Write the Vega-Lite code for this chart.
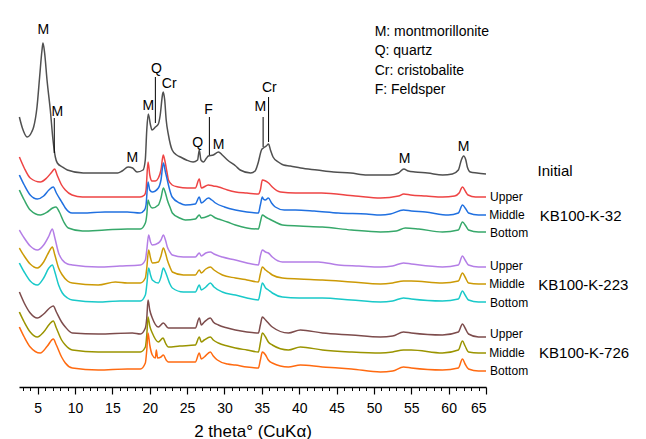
{
"$schema": "https://vega.github.io/schema/vega-lite/v6.json",
"width": 467, "height": 377,
"autosize": "none",
"padding": {"left": 19, "top": 10, "right": 160, "bottom": 52},
"config": {"view": {"stroke": null}, "font": "Liberation Sans", "axis": {"grid": false}},
"datasets": {
"xrd": [
{"s":"Initial","t":2.55,"v":270},{"s":"Initial","t":2.95,"v":259},{"s":"Initial","t":3.6,"v":250},{"s":"Initial","t":4.2,"v":255},{"s":"Initial","t":4.46,"v":260},{"s":"Initial","t":4.91,"v":280},{"s":"Initial","t":5.26,"v":310},{"s":"Initial","t":5.58,"v":337},{"s":"Initial","t":5.71,"v":344},{"s":"Initial","t":5.93,"v":334},{"s":"Initial","t":6.25,"v":307},{"s":"Initial","t":6.69,"v":277},{"s":"Initial","t":7.05,"v":247},{"s":"Initial","t":7.36,"v":230},{"s":"Initial","t":7.63,"v":224},{"s":"Initial","t":8.3,"v":220},{"s":"Initial","t":8.97,"v":217},{"s":"Initial","t":11.1,"v":214},{"s":"Initial","t":13.4,"v":214},{"s":"Initial","t":15.7,"v":214},{"s":"Initial","t":16.3,"v":216},{"s":"Initial","t":17.1,"v":220},{"s":"Initial","t":17.7,"v":219},{"s":"Initial","t":18.3,"v":215},{"s":"Initial","t":19.1,"v":217},{"s":"Initial","t":19.4,"v":227},{"s":"Initial","t":19.6,"v":257},{"s":"Initial","t":19.8,"v":273},{"s":"Initial","t":20.1,"v":262},{"s":"Initial","t":20.3,"v":257},{"s":"Initial","t":20.75,"v":260},{"s":"Initial","t":21.15,"v":263},{"s":"Initial","t":21.4,"v":272},{"s":"Initial","t":21.7,"v":292},{"s":"Initial","t":21.8,"v":295},{"s":"Initial","t":22.0,"v":287},{"s":"Initial","t":22.2,"v":267},{"s":"Initial","t":22.5,"v":252},{"s":"Initial","t":23.0,"v":237},{"s":"Initial","t":23.6,"v":232},{"s":"Initial","t":24.1,"v":230},{"s":"Initial","t":24.9,"v":227},{"s":"Initial","t":25.8,"v":225},{"s":"Initial","t":26.4,"v":227},{"s":"Initial","t":26.63,"v":237},{"s":"Initial","t":26.85,"v":227},{"s":"Initial","t":27.2,"v":225},{"s":"Initial","t":27.6,"v":229},{"s":"Initial","t":27.84,"v":231},{"s":"Initial","t":28.5,"v":232},{"s":"Initial","t":29.2,"v":235},{"s":"Initial","t":29.7,"v":232},{"s":"Initial","t":30.4,"v":227},{"s":"Initial","t":31.5,"v":221},{"s":"Initial","t":32.1,"v":217},{"s":"Initial","t":33.5,"v":214},{"s":"Initial","t":34.1,"v":216},{"s":"Initial","t":34.5,"v":224},{"s":"Initial","t":34.95,"v":237},{"s":"Initial","t":35.2,"v":239},{"s":"Initial","t":35.6,"v":241},{"s":"Initial","t":35.9,"v":243},{"s":"Initial","t":36.15,"v":237},{"s":"Initial","t":36.5,"v":230},{"s":"Initial","t":37.2,"v":225},{"s":"Initial","t":37.9,"v":222},{"s":"Initial","t":38.8,"v":221},{"s":"Initial","t":40.2,"v":219},{"s":"Initial","t":42.4,"v":217},{"s":"Initial","t":44.6,"v":215},{"s":"Initial","t":46.9,"v":214},{"s":"Initial","t":49.1,"v":212},{"s":"Initial","t":52.2,"v":212},{"s":"Initial","t":53.3,"v":214},{"s":"Initial","t":54.0,"v":218},{"s":"Initial","t":54.6,"v":216},{"s":"Initial","t":55.5,"v":215},{"s":"Initial","t":57.2,"v":214},{"s":"Initial","t":59.2,"v":212},{"s":"Initial","t":60.5,"v":213},{"s":"Initial","t":61.3,"v":217},{"s":"Initial","t":61.7,"v":227},{"s":"Initial","t":62.0,"v":231},{"s":"Initial","t":62.3,"v":227},{"s":"Initial","t":62.5,"v":220},{"s":"Initial","t":62.9,"v":215},{"s":"Initial","t":63.8,"v":214},{"s":"Initial","t":65,"v":213},
{"s":"32U","t":2.55,"v":230},{"s":"32U","t":3.2,"v":219},{"s":"32U","t":4.0,"v":209},{"s":"32U","t":5.35,"v":205},{"s":"32U","t":6.2,"v":209},{"s":"32U","t":6.9,"v":215},{"s":"32U","t":7.27,"v":218},{"s":"32U","t":7.6,"v":212},{"s":"32U","t":8.2,"v":202},{"s":"32U","t":8.7,"v":197},{"s":"32U","t":9.6,"v":192},{"s":"32U","t":11,"v":190},{"s":"32U","t":13.1,"v":190},{"s":"32U","t":16,"v":190},{"s":"32U","t":18.7,"v":190},{"s":"32U","t":19.3,"v":192},{"s":"32U","t":19.5,"v":197},{"s":"32U","t":19.77,"v":225},{"s":"32U","t":20.0,"v":212},{"s":"32U","t":20.3,"v":206},{"s":"32U","t":20.75,"v":206},{"s":"32U","t":21.15,"v":209},{"s":"32U","t":21.5,"v":217},{"s":"32U","t":21.8,"v":232},{"s":"32U","t":22.0,"v":227},{"s":"32U","t":22.3,"v":215},{"s":"32U","t":22.5,"v":207},{"s":"32U","t":23.0,"v":202},{"s":"32U","t":23.8,"v":200},{"s":"32U","t":25,"v":199},{"s":"32U","t":26.1,"v":199},{"s":"32U","t":26.63,"v":208},{"s":"32U","t":26.9,"v":199},{"s":"32U","t":27.84,"v":202},{"s":"32U","t":28.5,"v":201},{"s":"32U","t":29.2,"v":200},{"s":"32U","t":30.4,"v":197},{"s":"32U","t":31.5,"v":195},{"s":"32U","t":33,"v":194},{"s":"32U","t":34.54,"v":193},{"s":"32U","t":34.8,"v":197},{"s":"32U","t":35.07,"v":207},{"s":"32U","t":35.5,"v":206},{"s":"32U","t":35.9,"v":204},{"s":"32U","t":36.4,"v":200},{"s":"32U","t":37.5,"v":195},{"s":"32U","t":39.5,"v":194},{"s":"32U","t":43,"v":194},{"s":"32U","t":47.5,"v":191},{"s":"32U","t":50.9,"v":189},{"s":"32U","t":53.3,"v":191},{"s":"32U","t":54.0,"v":193},{"s":"32U","t":54.9,"v":192},{"s":"32U","t":57,"v":191},{"s":"32U","t":59.2,"v":190},{"s":"32U","t":60.8,"v":191},{"s":"32U","t":61.4,"v":194},{"s":"32U","t":61.85,"v":200},{"s":"32U","t":62.3,"v":195},{"s":"32U","t":62.6,"v":192},{"s":"32U","t":63.6,"v":190},{"s":"32U","t":65,"v":190},
{"s":"32M","t":2.55,"v":212},{"s":"32M","t":3.2,"v":202},{"s":"32M","t":4.0,"v":192},{"s":"32M","t":4.95,"v":188},{"s":"32M","t":5.8,"v":191},{"s":"32M","t":6.5,"v":197},{"s":"32M","t":7.09,"v":200},{"s":"32M","t":7.5,"v":194},{"s":"32M","t":8.3,"v":184},{"s":"32M","t":8.7,"v":179},{"s":"32M","t":9.6,"v":174},{"s":"32M","t":11,"v":174},{"s":"32M","t":14,"v":175},{"s":"32M","t":17,"v":175},{"s":"32M","t":18.7,"v":174},{"s":"32M","t":19.3,"v":177},{"s":"32M","t":19.5,"v":182},{"s":"32M","t":19.77,"v":205},{"s":"32M","t":20.0,"v":197},{"s":"32M","t":20.34,"v":195},{"s":"32M","t":21.15,"v":199},{"s":"32M","t":21.5,"v":207},{"s":"32M","t":21.82,"v":224},{"s":"32M","t":22.1,"v":215},{"s":"32M","t":22.35,"v":207},{"s":"32M","t":22.6,"v":199},{"s":"32M","t":23.0,"v":190},{"s":"32M","t":24.0,"v":184},{"s":"32M","t":24.76,"v":182},{"s":"32M","t":26.1,"v":183},{"s":"32M","t":26.63,"v":190},{"s":"32M","t":26.9,"v":184},{"s":"32M","t":27.84,"v":189},{"s":"32M","t":28.3,"v":187},{"s":"32M","t":28.8,"v":184},{"s":"32M","t":30,"v":180},{"s":"32M","t":31.46,"v":177},{"s":"32M","t":33,"v":175},{"s":"32M","t":34.54,"v":174},{"s":"32M","t":34.8,"v":182},{"s":"32M","t":35.07,"v":190},{"s":"32M","t":35.2,"v":188},{"s":"32M","t":35.47,"v":187},{"s":"32M","t":35.87,"v":189},{"s":"32M","t":36.3,"v":184},{"s":"32M","t":36.8,"v":180},{"s":"32M","t":38,"v":177},{"s":"32M","t":39.5,"v":177},{"s":"32M","t":42,"v":176},{"s":"32M","t":45.25,"v":174},{"s":"32M","t":49,"v":173},{"s":"32M","t":50.9,"v":172},{"s":"32M","t":52.2,"v":173},{"s":"32M","t":53.96,"v":177},{"s":"32M","t":55,"v":176},{"s":"32M","t":56.9,"v":175},{"s":"32M","t":59.97,"v":172},{"s":"32M","t":61.3,"v":174},{"s":"32M","t":61.85,"v":182},{"s":"32M","t":62.3,"v":178},{"s":"32M","t":62.66,"v":174},{"s":"32M","t":64,"v":172},{"s":"32M","t":65,"v":172},
{"s":"32B","t":2.55,"v":197},{"s":"32B","t":3.2,"v":187},{"s":"32B","t":4.0,"v":177},{"s":"32B","t":5.35,"v":172},{"s":"32B","t":6.3,"v":175},{"s":"32B","t":7.0,"v":179},{"s":"32B","t":7.45,"v":180},{"s":"32B","t":7.9,"v":175},{"s":"32B","t":8.5,"v":165},{"s":"32B","t":9.1,"v":159},{"s":"32B","t":11,"v":156},{"s":"32B","t":14,"v":157},{"s":"32B","t":17,"v":158},{"s":"32B","t":18.74,"v":158},{"s":"32B","t":19.41,"v":164},{"s":"32B","t":19.6,"v":172},{"s":"32B","t":19.77,"v":187},{"s":"32B","t":20.0,"v":182},{"s":"32B","t":20.34,"v":179},{"s":"32B","t":21.15,"v":182},{"s":"32B","t":21.5,"v":189},{"s":"32B","t":21.82,"v":199},{"s":"32B","t":22.1,"v":194},{"s":"32B","t":22.35,"v":187},{"s":"32B","t":22.7,"v":180},{"s":"32B","t":23.02,"v":174},{"s":"32B","t":24.0,"v":169},{"s":"32B","t":24.76,"v":167},{"s":"32B","t":26.1,"v":168},{"s":"32B","t":26.63,"v":172},{"s":"32B","t":26.9,"v":169},{"s":"32B","t":27.84,"v":171},{"s":"32B","t":28.1,"v":172},{"s":"32B","t":28.8,"v":169},{"s":"32B","t":29.18,"v":168},{"s":"32B","t":30.4,"v":165},{"s":"32B","t":31.46,"v":162},{"s":"32B","t":33,"v":159},{"s":"32B","t":34.54,"v":158},{"s":"32B","t":34.8,"v":165},{"s":"32B","t":35.07,"v":172},{"s":"32B","t":35.5,"v":170},{"s":"32B","t":36.0,"v":168},{"s":"32B","t":36.8,"v":165},{"s":"32B","t":37.75,"v":162},{"s":"32B","t":40,"v":161},{"s":"32B","t":43.1,"v":160},{"s":"32B","t":47,"v":157},{"s":"32B","t":50.87,"v":155},{"s":"32B","t":53,"v":156},{"s":"32B","t":54.2,"v":159},{"s":"32B","t":56,"v":158},{"s":"32B","t":59.17,"v":155},{"s":"32B","t":61.3,"v":157},{"s":"32B","t":61.85,"v":165},{"s":"32B","t":62.3,"v":161},{"s":"32B","t":62.66,"v":157},{"s":"32B","t":64,"v":155},{"s":"32B","t":65,"v":155},
{"s":"223U","t":2.55,"v":157},{"s":"223U","t":3.2,"v":149},{"s":"223U","t":4.0,"v":141},{"s":"223U","t":4.95,"v":137},{"s":"223U","t":5.8,"v":142},{"s":"223U","t":6.5,"v":151},{"s":"223U","t":6.96,"v":158},{"s":"223U","t":7.3,"v":149},{"s":"223U","t":7.8,"v":134},{"s":"223U","t":8.3,"v":127},{"s":"223U","t":9.0,"v":123},{"s":"223U","t":9.64,"v":122},{"s":"223U","t":13.1,"v":120},{"s":"223U","t":16,"v":121},{"s":"223U","t":18.74,"v":122},{"s":"223U","t":19.41,"v":127},{"s":"223U","t":19.6,"v":137},{"s":"223U","t":19.85,"v":152},{"s":"223U","t":20.1,"v":145},{"s":"223U","t":20.34,"v":142},{"s":"223U","t":21.15,"v":144},{"s":"223U","t":21.5,"v":147},{"s":"223U","t":21.82,"v":152},{"s":"223U","t":22.1,"v":147},{"s":"223U","t":22.35,"v":140},{"s":"223U","t":22.7,"v":135},{"s":"223U","t":23.02,"v":132},{"s":"223U","t":24.5,"v":130},{"s":"223U","t":26.1,"v":130},{"s":"223U","t":26.63,"v":134},{"s":"223U","t":26.9,"v":131},{"s":"223U","t":27.5,"v":134},{"s":"223U","t":28.11,"v":135},{"s":"223U","t":28.6,"v":133},{"s":"223U","t":29.72,"v":130},{"s":"223U","t":31.46,"v":127},{"s":"223U","t":33,"v":124},{"s":"223U","t":34.54,"v":122},{"s":"223U","t":34.8,"v":131},{"s":"223U","t":35.07,"v":137},{"s":"223U","t":35.5,"v":135},{"s":"223U","t":35.87,"v":134},{"s":"223U","t":36.4,"v":130},{"s":"223U","t":37.75,"v":125},{"s":"223U","t":40,"v":125},{"s":"223U","t":42.57,"v":125},{"s":"223U","t":45.25,"v":122},{"s":"223U","t":48,"v":121},{"s":"223U","t":50.87,"v":120},{"s":"223U","t":52.5,"v":121},{"s":"223U","t":53.96,"v":124},{"s":"223U","t":55,"v":123},{"s":"223U","t":59.17,"v":120},{"s":"223U","t":61.3,"v":122},{"s":"223U","t":61.85,"v":131},{"s":"223U","t":62.2,"v":127},{"s":"223U","t":62.66,"v":122},{"s":"223U","t":64,"v":120},{"s":"223U","t":65,"v":120},
{"s":"223M","t":2.55,"v":139},{"s":"223M","t":3.2,"v":131},{"s":"223M","t":4.0,"v":123},{"s":"223M","t":4.95,"v":119},{"s":"223M","t":5.8,"v":125},{"s":"223M","t":6.5,"v":135},{"s":"223M","t":6.96,"v":140},{"s":"223M","t":7.3,"v":132},{"s":"223M","t":7.8,"v":119},{"s":"223M","t":8.3,"v":112},{"s":"223M","t":9.0,"v":106},{"s":"223M","t":9.64,"v":104},{"s":"223M","t":13.1,"v":102},{"s":"223M","t":15.4,"v":105},{"s":"223M","t":17,"v":104},{"s":"223M","t":18.74,"v":104},{"s":"223M","t":19.41,"v":109},{"s":"223M","t":19.6,"v":119},{"s":"223M","t":19.85,"v":137},{"s":"223M","t":20.1,"v":129},{"s":"223M","t":20.34,"v":124},{"s":"223M","t":21.15,"v":125},{"s":"223M","t":21.5,"v":131},{"s":"223M","t":21.82,"v":139},{"s":"223M","t":22.1,"v":134},{"s":"223M","t":22.35,"v":127},{"s":"223M","t":22.7,"v":120},{"s":"223M","t":23.02,"v":115},{"s":"223M","t":24.5,"v":112},{"s":"223M","t":26.1,"v":112},{"s":"223M","t":26.63,"v":117},{"s":"223M","t":26.9,"v":114},{"s":"223M","t":27.5,"v":118},{"s":"223M","t":28.11,"v":120},{"s":"223M","t":28.6,"v":117},{"s":"223M","t":29.72,"v":112},{"s":"223M","t":31.46,"v":109},{"s":"223M","t":33,"v":107},{"s":"223M","t":34.54,"v":105},{"s":"223M","t":34.8,"v":113},{"s":"223M","t":35.07,"v":120},{"s":"223M","t":35.5,"v":117},{"s":"223M","t":35.87,"v":115},{"s":"223M","t":36.4,"v":112},{"s":"223M","t":37.75,"v":109},{"s":"223M","t":40,"v":108},{"s":"223M","t":43.1,"v":107},{"s":"223M","t":47,"v":105},{"s":"223M","t":50.87,"v":103},{"s":"223M","t":52.5,"v":104},{"s":"223M","t":53.96,"v":106},{"s":"223M","t":55,"v":106},{"s":"223M","t":59.17,"v":104},{"s":"223M","t":61.3,"v":106},{"s":"223M","t":61.85,"v":114},{"s":"223M","t":62.2,"v":110},{"s":"223M","t":62.66,"v":104},{"s":"223M","t":64,"v":103},{"s":"223M","t":65,"v":103},
{"s":"223B","t":2.55,"v":124},{"s":"223B","t":3.2,"v":115},{"s":"223B","t":4.0,"v":106},{"s":"223B","t":4.95,"v":102},{"s":"223B","t":5.8,"v":109},{"s":"223B","t":6.5,"v":119},{"s":"223B","t":6.96,"v":122},{"s":"223B","t":7.3,"v":115},{"s":"223B","t":7.8,"v":102},{"s":"223B","t":8.3,"v":94},{"s":"223B","t":9.0,"v":89},{"s":"223B","t":9.64,"v":87},{"s":"223B","t":13.1,"v":85},{"s":"223B","t":16,"v":86},{"s":"223B","t":18.74,"v":86},{"s":"223B","t":19.41,"v":92},{"s":"223B","t":19.6,"v":102},{"s":"223B","t":19.85,"v":119},{"s":"223B","t":20.1,"v":112},{"s":"223B","t":20.34,"v":107},{"s":"223B","t":21.15,"v":104},{"s":"223B","t":21.5,"v":110},{"s":"223B","t":21.82,"v":119},{"s":"223B","t":22.1,"v":115},{"s":"223B","t":22.35,"v":110},{"s":"223B","t":22.7,"v":103},{"s":"223B","t":23.02,"v":99},{"s":"223B","t":24.5,"v":95},{"s":"223B","t":26.1,"v":95},{"s":"223B","t":26.63,"v":102},{"s":"223B","t":26.9,"v":97},{"s":"223B","t":27.5,"v":100},{"s":"223B","t":28.11,"v":104},{"s":"223B","t":28.6,"v":100},{"s":"223B","t":29.72,"v":95},{"s":"223B","t":31.46,"v":92},{"s":"223B","t":33,"v":89},{"s":"223B","t":34.54,"v":87},{"s":"223B","t":34.8,"v":95},{"s":"223B","t":35.07,"v":104},{"s":"223B","t":35.5,"v":99},{"s":"223B","t":35.87,"v":97},{"s":"223B","t":36.4,"v":94},{"s":"223B","t":37.75,"v":90},{"s":"223B","t":40,"v":89},{"s":"223B","t":43.1,"v":89},{"s":"223B","t":47,"v":87},{"s":"223B","t":50.87,"v":85},{"s":"223B","t":52.5,"v":86},{"s":"223B","t":53.96,"v":89},{"s":"223B","t":55,"v":88},{"s":"223B","t":59.17,"v":86},{"s":"223B","t":61.3,"v":88},{"s":"223B","t":61.85,"v":96},{"s":"223B","t":62.2,"v":92},{"s":"223B","t":62.66,"v":87},{"s":"223B","t":64,"v":85},{"s":"223B","t":65,"v":85},
{"s":"726U","t":2.55,"v":95},{"s":"726U","t":3.2,"v":84},{"s":"726U","t":4.0,"v":74},{"s":"726U","t":4.95,"v":69},{"s":"726U","t":5.8,"v":73},{"s":"726U","t":6.6,"v":79},{"s":"726U","t":7.09,"v":81},{"s":"726U","t":7.5,"v":75},{"s":"726U","t":8.2,"v":65},{"s":"726U","t":8.7,"v":60},{"s":"726U","t":9.64,"v":54},{"s":"726U","t":13.1,"v":53},{"s":"726U","t":17.67,"v":54},{"s":"726U","t":18.74,"v":53},{"s":"726U","t":19.41,"v":59},{"s":"726U","t":19.6,"v":69},{"s":"726U","t":19.77,"v":87},{"s":"726U","t":20.0,"v":77},{"s":"726U","t":20.34,"v":69},{"s":"726U","t":21.15,"v":60},{"s":"726U","t":21.82,"v":64},{"s":"726U","t":22.49,"v":59},{"s":"726U","t":24,"v":59},{"s":"726U","t":26.1,"v":59},{"s":"726U","t":26.63,"v":69},{"s":"726U","t":26.9,"v":62},{"s":"726U","t":27.3,"v":65},{"s":"726U","t":28.11,"v":69},{"s":"726U","t":28.5,"v":65},{"s":"726U","t":29.18,"v":62},{"s":"726U","t":30.4,"v":59},{"s":"726U","t":31.46,"v":57},{"s":"726U","t":33,"v":55},{"s":"726U","t":34.54,"v":54},{"s":"726U","t":34.8,"v":62},{"s":"726U","t":35.07,"v":70},{"s":"726U","t":35.5,"v":67},{"s":"726U","t":35.87,"v":64},{"s":"726U","t":36.4,"v":60},{"s":"726U","t":38.55,"v":54},{"s":"726U","t":40.16,"v":57},{"s":"726U","t":43.1,"v":54},{"s":"726U","t":47,"v":52},{"s":"726U","t":50.87,"v":50},{"s":"726U","t":52.5,"v":51},{"s":"726U","t":53.96,"v":55},{"s":"726U","t":55,"v":54},{"s":"726U","t":59.17,"v":52},{"s":"726U","t":61.3,"v":55},{"s":"726U","t":61.85,"v":63},{"s":"726U","t":62.2,"v":59},{"s":"726U","t":62.66,"v":53},{"s":"726U","t":64,"v":50},{"s":"726U","t":65,"v":50},
{"s":"726M","t":2.55,"v":75},{"s":"726M","t":3.2,"v":65},{"s":"726M","t":4.0,"v":55},{"s":"726M","t":4.95,"v":50},{"s":"726M","t":5.8,"v":55},{"s":"726M","t":6.6,"v":63},{"s":"726M","t":7.09,"v":66},{"s":"726M","t":7.5,"v":59},{"s":"726M","t":8.2,"v":47},{"s":"726M","t":8.7,"v":42},{"s":"726M","t":9.64,"v":37},{"s":"726M","t":13.1,"v":35},{"s":"726M","t":17,"v":35},{"s":"726M","t":18.74,"v":35},{"s":"726M","t":19.41,"v":40},{"s":"726M","t":19.6,"v":52},{"s":"726M","t":19.77,"v":70},{"s":"726M","t":20.0,"v":61},{"s":"726M","t":20.34,"v":54},{"s":"726M","t":21.15,"v":45},{"s":"726M","t":21.78,"v":49},{"s":"726M","t":22.1,"v":44},{"s":"726M","t":22.49,"v":40},{"s":"726M","t":24,"v":41},{"s":"726M","t":26.1,"v":42},{"s":"726M","t":26.63,"v":50},{"s":"726M","t":26.9,"v":45},{"s":"726M","t":27.3,"v":47},{"s":"726M","t":28.11,"v":50},{"s":"726M","t":28.5,"v":47},{"s":"726M","t":29.18,"v":44},{"s":"726M","t":30.4,"v":41},{"s":"726M","t":31.46,"v":39},{"s":"726M","t":33,"v":37},{"s":"726M","t":34.54,"v":35},{"s":"726M","t":34.8,"v":44},{"s":"726M","t":35.07,"v":54},{"s":"726M","t":35.5,"v":50},{"s":"726M","t":35.87,"v":45},{"s":"726M","t":36.4,"v":42},{"s":"726M","t":38.55,"v":37},{"s":"726M","t":40.16,"v":40},{"s":"726M","t":43.1,"v":37},{"s":"726M","t":47,"v":35},{"s":"726M","t":50.87,"v":34},{"s":"726M","t":52.5,"v":35},{"s":"726M","t":53.96,"v":37},{"s":"726M","t":55,"v":37},{"s":"726M","t":59.17,"v":34},{"s":"726M","t":61.3,"v":37},{"s":"726M","t":61.85,"v":46},{"s":"726M","t":62.2,"v":41},{"s":"726M","t":62.66,"v":35},{"s":"726M","t":64,"v":34},{"s":"726M","t":65,"v":34},
{"s":"726B","t":2.55,"v":60},{"s":"726B","t":3.2,"v":50},{"s":"726B","t":4.0,"v":40},{"s":"726B","t":5.35,"v":34},{"s":"726B","t":6.3,"v":41},{"s":"726B","t":7.09,"v":48},{"s":"726B","t":7.5,"v":42},{"s":"726B","t":8.2,"v":30},{"s":"726B","t":8.7,"v":24},{"s":"726B","t":9.64,"v":19},{"s":"726B","t":13.1,"v":17},{"s":"726B","t":17,"v":18},{"s":"726B","t":18.74,"v":18},{"s":"726B","t":19.41,"v":24},{"s":"726B","t":19.6,"v":37},{"s":"726B","t":19.77,"v":54},{"s":"726B","t":20.0,"v":42},{"s":"726B","t":20.34,"v":32},{"s":"726B","t":20.75,"v":29},{"s":"726B","t":20.88,"v":37},{"s":"726B","t":21.05,"v":29},{"s":"726B","t":21.5,"v":30},{"s":"726B","t":21.82,"v":32},{"s":"726B","t":22.2,"v":27},{"s":"726B","t":22.49,"v":25},{"s":"726B","t":24,"v":25},{"s":"726B","t":26.1,"v":25},{"s":"726B","t":26.63,"v":34},{"s":"726B","t":26.9,"v":28},{"s":"726B","t":27.3,"v":30},{"s":"726B","t":28.11,"v":35},{"s":"726B","t":28.5,"v":31},{"s":"726B","t":29.05,"v":27},{"s":"726B","t":30.4,"v":23},{"s":"726B","t":31.46,"v":22},{"s":"726B","t":33,"v":20},{"s":"726B","t":34.54,"v":19},{"s":"726B","t":34.8,"v":27},{"s":"726B","t":35.07,"v":35},{"s":"726B","t":35.5,"v":32},{"s":"726B","t":35.87,"v":27},{"s":"726B","t":36.4,"v":24},{"s":"726B","t":38.55,"v":20},{"s":"726B","t":40.16,"v":22},{"s":"726B","t":43.1,"v":20},{"s":"726B","t":45.25,"v":19},{"s":"726B","t":47,"v":18},{"s":"726B","t":50.87,"v":15},{"s":"726B","t":52.5,"v":16},{"s":"726B","t":53.96,"v":20},{"s":"726B","t":55,"v":19},{"s":"726B","t":59.17,"v":17},{"s":"726B","t":61.3,"v":19},{"s":"726B","t":61.85,"v":28},{"s":"726B","t":62.2,"v":23},{"s":"726B","t":62.66,"v":18},{"s":"726B","t":64,"v":16},{"s":"726B","t":65,"v":16}
]
},
"layer": [
{"data": {"name": "xrd"},
 "mark": {"type": "line", "strokeWidth": 1.5, "strokeJoin": "round", "interpolate": "monotone"},
 "encoding": {
  "x": {"field": "t", "type": "quantitative", "scale": {"domain": [2.5, 65], "nice": false, "zero": false},
   "axis": {"orient": "bottom", "values": [5,10,15,20,25,30,35,40,45,50,55,60,65], "tickSize": 7, "tickWidth": 1.2, "tickColor": "#000", "domainColor": "#000", "domainWidth": 1.5, "labelFontSize": 14, "labelColor": "#000", "labelPadding": 7, "labelFont": "Liberation Sans", "title": "2 theta° (CuKα)", "titleFont": "Liberation Sans", "titleFontSize": 17, "titleFontWeight": "normal", "titleColor": "#000", "titlePadding": 8, "grid": false}},
  "y": {"field": "v", "type": "quantitative", "scale": {"domain": [0, 377], "nice": false, "zero": false},
   "axis": {"labels": false, "ticks": false, "title": null, "domainColor": "#000", "domainWidth": 1.5, "grid": false}},
  "color": {"field": "s", "type": "nominal", "legend": null,
   "scale": {"domain": ["Initial","32U","32M","32B","223U","223M","223B","726U","726M","726B"],
    "range": ["#505050","#ee4444","#2070e0","#36a86a","#b47ee6","#cc9a06","#19c9c9","#7d4c4c","#9a9400","#ff6a10"]}}
 }},
{"data": {"values": [
  {"t": 7.22, "v1": 269, "v2": 234},
  {"t": 20.75, "v1": 310, "v2": 264},
  {"t": 27.98, "v1": 270, "v2": 232},
  {"t": 35.17, "v1": 270, "v2": 240},
  {"t": 35.9, "v1": 290, "v2": 245}
 ]},
 "mark": {"type": "rule", "color": "#000", "strokeWidth": 1},
 "encoding": {
  "x": {"field": "t", "type": "quantitative",
   "axis": {"orient": "bottom", "values": [3,4,5,6,7,8,9,10,11,12,13,14,15,16,17,18,19,20,21,22,23,24,25,26,27,28,29,30,31,32,33,34,35,36,37,38,39,40,41,42,43,44,45,46,47,48,49,50,51,52,53,54,55,56,57,58,59,60,61,62,63,64], "tickSize": 3.5, "tickWidth": 1, "tickColor": "#000", "labels": false, "domain": false, "title": null, "grid": false}},
  "y": {"field": "v1", "type": "quantitative", "axis": null},
  "y2": {"field": "v2"}
 }},
{"data": {"values": [
  {"lab": "M", "t": 5.75, "v": 357},
  {"lab": "M", "t": 7.63, "v": 275},
  {"lab": "M", "t": 17.67, "v": 229},
  {"lab": "M", "t": 19.81, "v": 281},
  {"lab": "Q", "t": 20.88, "v": 318},
  {"lab": "Cr", "t": 22.6, "v": 303},
  {"lab": "Q", "t": 26.4, "v": 244},
  {"lab": "F", "t": 27.87, "v": 277},
  {"lab": "M", "t": 29.2, "v": 242},
  {"lab": "M", "t": 34.8, "v": 280},
  {"lab": "Cr", "t": 36.0, "v": 299},
  {"lab": "M", "t": 54.1, "v": 228},
  {"lab": "M", "t": 62.0, "v": 240}
 ]},
 "mark": {"type": "text", "fontSize": 14, "align": "center", "baseline": "middle", "color": "#000"},
 "encoding": {
  "x": {"field": "t", "type": "quantitative", "axis": null},
  "y": {"field": "v", "type": "quantitative", "axis": null},
  "text": {"field": "lab"}
 }},
{"data": {"values": [
  {"lab": "M: montmorillonite", "t": 50.1, "v": 355},
  {"lab": "Q: quartz", "t": 50.1, "v": 336},
  {"lab": "Cr: cristobalite", "t": 50.1, "v": 316},
  {"lab": "F: Feldsper", "t": 50.1, "v": 297}
 ]},
 "mark": {"type": "text", "fontSize": 14, "align": "left", "baseline": "middle", "color": "#000"},
 "encoding": {
  "x": {"field": "t", "type": "quantitative", "axis": null},
  "y": {"field": "v", "type": "quantitative", "axis": null},
  "text": {"field": "lab"}
 }},
{"data": {"values": [
  {"lab": "Upper", "t": 65.55, "v": 190},
  {"lab": "Middle", "t": 65.45, "v": 172},
  {"lab": "Bottom", "t": 65.55, "v": 154},
  {"lab": "Upper", "t": 65.55, "v": 121},
  {"lab": "Middle", "t": 65.45, "v": 103},
  {"lab": "Bottom", "t": 65.55, "v": 84},
  {"lab": "Upper", "t": 65.55, "v": 53},
  {"lab": "Middle", "t": 65.45, "v": 34},
  {"lab": "Bottom", "t": 65.55, "v": 16}
 ]},
 "mark": {"type": "text", "fontSize": 12, "align": "left", "baseline": "middle", "color": "#000"},
 "encoding": {
  "x": {"field": "t", "type": "quantitative", "axis": null},
  "y": {"field": "v", "type": "quantitative", "axis": null},
  "text": {"field": "lab"}
 }},
{"data": {"values": [
  {"lab": "Initial", "t": 71.9, "v": 216},
  {"lab": "KB100-K-32", "t": 72.2, "v": 171},
  {"lab": "KB100-K-223", "t": 72.0, "v": 102},
  {"lab": "KB100-K-726", "t": 72.1, "v": 34}
 ]},
 "mark": {"type": "text", "fontSize": 15, "align": "left", "baseline": "middle", "color": "#000"},
 "encoding": {
  "x": {"field": "t", "type": "quantitative", "axis": null},
  "y": {"field": "v", "type": "quantitative", "axis": null},
  "text": {"field": "lab"}
 }}
],
"resolve": {"axis": {"x": "independent"}}
}
